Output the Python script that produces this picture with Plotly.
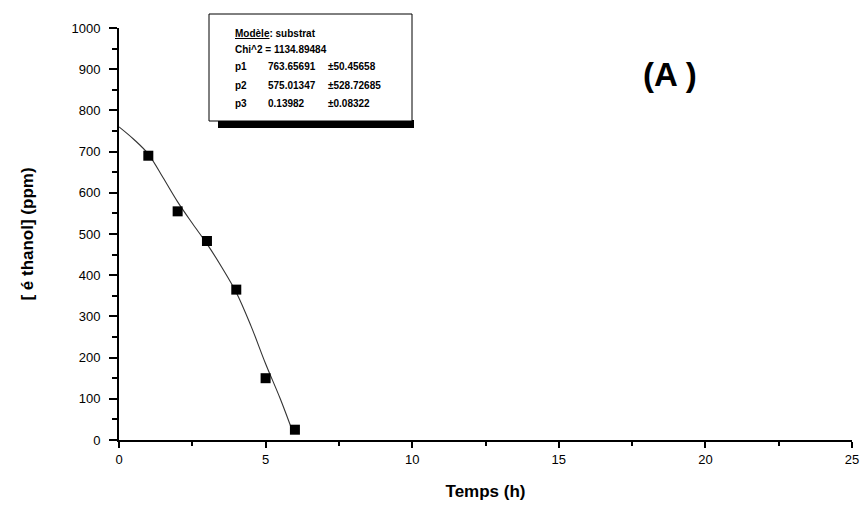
import plotly.graph_objects as go

# Measured ethanol concentration over time
temps_h = [1, 2, 3, 4, 5, 6]
ethanol_ppm = [690, 555, 483, 365, 150, 25]

# Fitted "substrat" model curve
fit_t = [0, 0.5, 1, 1.5, 2, 2.5, 3, 3.5, 4, 4.5, 5, 5.5, 5.95]
fit_y = [760, 730, 694, 637, 578, 526, 476, 420, 358, 277, 185, 100, 15]

x_ticks = [0, 5, 10, 15, 20, 25]
y_ticks = [0, 100, 200, 300, 400, 500, 600, 700, 800, 900, 1000]

# Fit report
fit_rows = [
    ("Chi^2 = 1134.89484", "", ""),
    ("p1", "763.65691", "±50.45658"),
    ("p2", "575.01347", "±528.72685"),
    ("p3", "0.13982", "±0.08322"),
]

W, H = 863, 507
L, R, T, B = 119, 11, 28, 67
PW, PH = W - L - R, H - T - B


def px(x):
    return (x - L) / PW


def py(y):
    return (H - B - y) / PH


FONT = "Liberation Sans, Arial, sans-serif"

fig = go.Figure()
fig.add_trace(go.Scatter(
    x=fit_t, y=fit_y, mode="lines",
    line=dict(color="#333333", width=1.1, shape="spline", smoothing=1.0),
    hoverinfo="skip", showlegend=False,
))
fig.add_trace(go.Scatter(
    x=temps_h, y=ethanol_ppm, mode="markers",
    marker=dict(symbol="square", size=10, color="black"), showlegend=False,
))

shapes = []
# report box with drop shadow
shapes.append(dict(type="rect", xref="paper", yref="paper",
                   x0=px(218), x1=px(414), y0=py(128), y1=py(120),
                   fillcolor="black", line=dict(width=0)))
shapes.append(dict(type="rect", xref="paper", yref="paper",
                   x0=px(209), x1=px(412), y0=py(121), y1=py(14),
                   fillcolor="white", line=dict(color="black", width=1)))

annotations = []
row_y = [50, 67, 85, 103]
annotations.append(dict(
    xref="paper", yref="paper", x=px(233), y=py(33), xanchor="left", yanchor="middle",
    text="<b><u>Modèle</u></b><b>: substrat</b>", showarrow=False,
    font=dict(family=FONT, size=10, color="black"),
))
for (lab, val, err), yy in zip(fit_rows, row_y):
    for txt, xx in ((lab, 233), (val, 266), (err, 326)):
        if txt:
            annotations.append(dict(
                xref="paper", yref="paper", x=px(xx), y=py(yy),
                xanchor="left", yanchor="middle", text="<b>" + txt + "</b>",
                showarrow=False, font=dict(family=FONT, size=10, color="black"),
            ))
annotations.append(dict(
    xref="paper", yref="paper", x=px(670), y=py(75), xanchor="center", yanchor="middle",
    text="<b>(A )</b>", showarrow=False, font=dict(family=FONT, size=33, color="black"),
))

fig.update_layout(
    width=W, height=H,
    margin=dict(l=L, r=R, t=T, b=B, autoexpand=False),
    paper_bgcolor="white", plot_bgcolor="white",
    font=dict(family=FONT, color="black"),
    shapes=shapes, annotations=annotations,
    xaxis=dict(
        range=[0, 25], tickvals=x_ticks, showgrid=False, zeroline=False,
        showline=True, linecolor="black", linewidth=2, automargin=False,
        ticks="outside", ticklen=6, tickwidth=2, tickcolor="black",
        minor=dict(dtick=2.5, tick0=0, ticks="outside", ticklen=4, tickwidth=1.5, tickcolor="black"),
        tickfont=dict(size=13, family=FONT),
        title=dict(text="<b>Temps (h)</b>", font=dict(size=17, family=FONT), standoff=20),
    ),
    yaxis=dict(
        range=[0, 1000], tickvals=y_ticks, showgrid=False, zeroline=False,
        showline=True, linecolor="black", linewidth=2, automargin=False,
        ticks="outside", ticklen=8, tickwidth=2, tickcolor="black",
        minor=dict(dtick=50, tick0=0, ticks="outside", ticklen=5, tickwidth=1.5, tickcolor="black"),
        tickfont=dict(size=13, family=FONT), ticklabelstandoff=6,
        title=dict(text="<b>[ é thanol] (ppm)</b>", font=dict(size=17, family=FONT), standoff=34),
    ),
)

fig.write_html("out.html")
